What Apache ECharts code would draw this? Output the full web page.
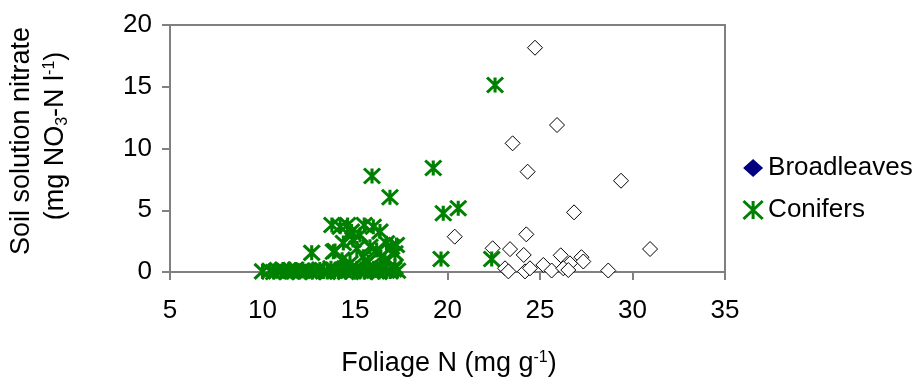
<!DOCTYPE html>
<html>
<head>
<meta charset="utf-8">
<script src="https://cdn.jsdelivr.net/npm/echarts@6/dist/echarts.min.js"></script>
<style>
  html, body { margin: 0; padding: 0; background: #fff; }
  #chart { width: 918px; height: 378px; }
</style>
</head>
<body>
<div id="chart"></div>
<script>
// Foliage N (mg g-1) vs soil solution nitrate (mg NO3-N l-1)
const broadleaves = [
  [24.73, 18.16], [25.92, 11.9], [23.52, 10.42], [24.33, 8.12], [29.38, 7.39],
  [26.84, 4.83], [20.39, 2.86], [24.26, 3.05], [30.95, 1.86], [22.44, 1.92],
  [23.38, 1.85], [24.12, 1.38], [26.12, 1.35], [27.24, 1.2], [27.34, 0.85],
  [26.62, 0.7], [23.11, 0.3], [23.29, 0.05], [24.19, 0.05], [24.46, 0.3],
  [25.18, 0.57], [25.63, 0.12], [26.26, 0.3], [26.53, 0.16], [28.69, 0.12]
];

const conifers = [
  // isolated high values
  [22.57, 15.14], [15.92, 7.77], [16.89, 6.05], [19.23, 8.42], [19.77, 4.75],
  [20.58, 5.16], [19.65, 1.05], [22.39, 1.05],
  // main cluster
  [12.66, 1.55], [13.75, 3.8], [14.2, 3.67], [14.6, 3.8], [13.92, 1.7],
  [14.37, 2.35], [14.81, 3.27], [15.27, 3.0], [15.5, 3.8], [15.99, 3.67],
  [16.35, 3.27], [14.89, 2.6], [13.83, 1.64], [15.81, 2.05], [16.17, 1.78],
  [16.98, 2.05], [17.24, 2.19], [17.16, 1.51], [15.45, 1.24], [16.62, 0.97],
  [14.73, 0.7], [17.16, 0.43], [16.0, 0.3], [16.7, 2.32], [15.1, 1.9],
  [16.4, 1.2], [15.7, 0.8], [14.3, 1.0],
  // near-zero values
  [10.0, 0.05], [10.4, 0.1], [10.6, 0.0], [10.8, 0.15], [11.0, 0.05],
  [11.1, 0.2], [11.3, 0.0], [11.5, 0.1], [11.6, 0.05], [11.8, 0.2],
  [12.0, 0.0], [12.1, 0.1], [12.3, 0.05], [12.5, 0.15], [12.7, 0.0],
  [12.9, 0.1], [13.1, 0.2], [13.3, 0.05], [13.5, 0.0], [13.7, 0.3],
  [13.9, 0.1], [14.1, 0.05], [14.3, 0.2], [14.5, 0.0], [14.7, 0.15],
  [14.9, 0.05], [15.1, 0.3], [15.3, 0.1], [15.5, 0.0], [15.7, 0.2],
  [15.9, 0.05], [16.1, 0.15], [16.3, 0.0], [16.5, 0.3], [16.7, 0.1],
  [16.9, 0.05], [17.1, 0.2], [17.3, 0.1]
];

const xTicks = { min: 5, max: 35, interval: 5 };
const yTicks = { min: 0, max: 20, interval: 5 };

const FONT = 'Liberation Sans, Arial, sans-serif';
const AXIS_GREY = '#808080';
const STAR = 'path://M0,0L16,15M16,0L0,15M8,0L8,15';

const chart = echarts.init(document.getElementById('chart'), null, { renderer: 'canvas' });

chart.setOption({
  animation: false,
  backgroundColor: '#fff',
  grid: {
    left: 170, right: 193, top: 25, bottom: 106,
    show: true, borderColor: AXIS_GREY, borderWidth: 2, backgroundColor: 'transparent'
  },
  xAxis: {
    type: 'value', min: xTicks.min, max: xTicks.max, interval: xTicks.interval,
    axisLine: { show: true, onZero: false, lineStyle: { color: AXIS_GREY, width: 2 } },
    axisTick: { show: true, inside: false, length: 8, lineStyle: { color: AXIS_GREY, width: 2 } },
    axisLabel: { color: '#000', fontFamily: FONT, fontSize: 26, margin: 26 },
    splitLine: { show: false }
  },
  yAxis: {
    type: 'value', min: yTicks.min, max: yTicks.max, interval: yTicks.interval,
    axisLine: { show: true, onZero: false, lineStyle: { color: AXIS_GREY, width: 2 } },
    axisTick: { show: true, inside: false, length: 8, lineStyle: { color: AXIS_GREY, width: 2 } },
    axisLabel: { color: '#000', fontFamily: FONT, fontSize: 26, margin: 18 },
    splitLine: { show: false }
  },
  legend: {
    orient: 'vertical', left: 737, top: 150,
    itemWidth: 20, itemHeight: 18, itemGap: 16,
    textStyle: { color: '#000', fontFamily: FONT, fontSize: 26 },
    data: [
      { name: 'Broadleaves', icon: 'diamond', itemStyle: { color: '#000080', borderColor: '#000080', borderWidth: 0 } },
      { name: 'Conifers', icon: STAR, itemStyle: { color: 'rgba(0,0,0,0)', borderColor: '#008000', borderWidth: 3 } }
    ]
  },
  series: [
    {
      name: 'Broadleaves', type: 'scatter', data: broadleaves,
      symbol: 'diamond', symbolSize: 15,
      itemStyle: { color: '#fff', borderColor: '#000', borderWidth: 1, opacity: 1 }
    },
    {
      name: 'Conifers', type: 'scatter', data: conifers,
      symbol: STAR, symbolSize: [16, 15],
      itemStyle: { color: 'rgba(0,0,0,0)', borderColor: '#008000', borderWidth: 3, opacity: 1 }
    }
  ],
  graphic: [
    {
      type: 'text', x: 22, y: 141, rotation: Math.PI / 2,
      style: {
        text: 'Soil solution nitrate', fill: '#000', font: '27px ' + FONT,
        align: 'center', verticalAlign: 'middle'
      }
    },
    {
      type: 'text', x: 56, y: 136, rotation: Math.PI / 2,
      style: {
        text: '(mg NO{sub|3}-N l{sup|-1})', fill: '#000', font: '27px ' + FONT,
        align: 'center', verticalAlign: 'middle',
        rich: {
          sub: { fontSize: 16, fontFamily: FONT, fill: '#000', padding: [13, 0, 0, 0] },
          sup: { fontSize: 16, fontFamily: FONT, fill: '#000', padding: [0, 0, 13, 0] }
        }
      }
    },
    {
      type: 'text', x: 449, y: 364,
      style: {
        text: 'Foliage N (mg g{sup|-1})', fill: '#000', font: '27px ' + FONT,
        align: 'center', verticalAlign: 'middle',
        rich: {
          sup: { fontSize: 16, fontFamily: FONT, fill: '#000', padding: [0, 0, 13, 0] }
        }
      }
    }
  ]
});
</script>
</body>
</html>
